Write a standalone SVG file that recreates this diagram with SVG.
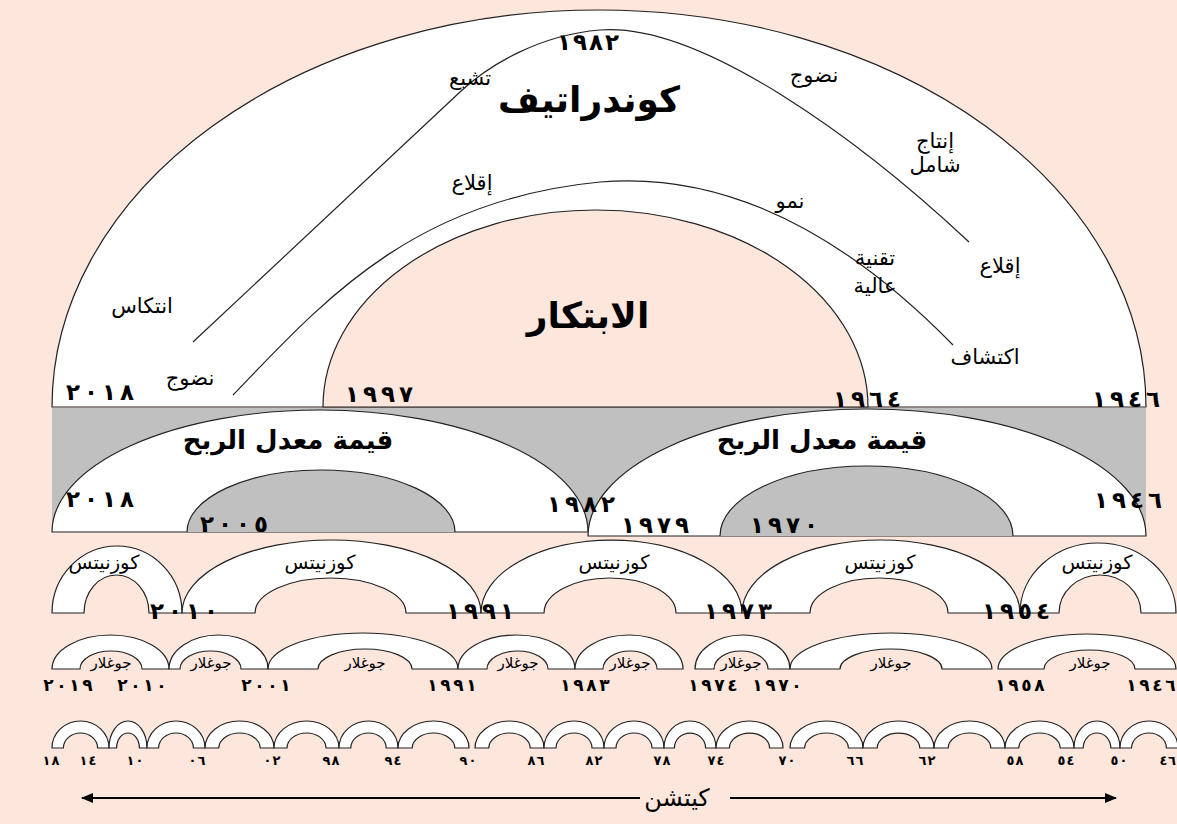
<svg xmlns="http://www.w3.org/2000/svg" width="1177" height="824" viewBox="0 0 1177 824">
<defs>
<style>
.arch{fill:#fff;stroke:#222;stroke-width:1.2;stroke-linejoin:round}
.hole{fill:#fde6dc;stroke:#222;stroke-width:1.2}
.ghole{fill:#c0c0c0;stroke:#222;stroke-width:1.2}
.band{fill:#c0c0c0}
.curve{fill:none;stroke:#222;stroke-width:1.2}
.arrow{fill:none;stroke:#000;stroke-width:2}
text{font-family:'DejaVu Sans',sans-serif;fill:#000;text-anchor:middle}
.big{font-size:36px;font-weight:bold}
.mid{font-size:26px;font-weight:bold}
.lbl{font-size:21px}
.kz{font-size:19.5px}
.jg{font-size:15px}
.kt{font-size:24px}
.yr{font-size:23px;font-weight:bold}
.yrs{font-size:17px;font-weight:bold}
.yrx{font-size:13px;font-weight:bold}
</style>
<marker id="ah" viewBox="0 0 12 10" refX="11" refY="5" markerWidth="12" markerHeight="10" markerUnits="userSpaceOnUse" orient="auto">
<path d="M0,0 L12,5 L0,10 z" fill="#000"/>
</marker>
</defs>
<rect width="1177" height="824" fill="#fde6dc"/>

<g id="kondratieff">
<path class="arch" d="M52,407 A547,397 0 0 1 1146,407 Z"/>
<g id="connectors">
<path class="curve" d="M193,342 L460,92 C490,64 540,35 600,30 C700,22 860,140 969,242"/>
<path class="curve" d="M233,395 C320,305 410,200 600,182 C740,170 860,250 953,345"/>
</g>
<path class="hole" d="M323,407 A272.5,197 0 0 1 868,407 Z"/>
<text class="yr" x="564 580 596 612" y="50">١٩٨٢</text>
<text class="big" x="589" y="112">كوندراتيف</text>
<text class="lbl" x="470" y="85">تشبع</text>
<text class="lbl" x="814" y="82">نضوج</text>
<text class="lbl" x="935" y="148">إنتاج</text>
<text class="lbl" x="935" y="172">شامل</text>
<text class="lbl" x="472" y="190">إقلاع</text>
<text class="lbl" x="790" y="208">نمو</text>
<text class="lbl" x="875" y="265">تقنية</text>
<text class="lbl" x="875" y="293">عالية</text>
<text class="lbl" x="1000" y="273">إقلاع</text>
<text class="lbl" x="142" y="313">انتكاس</text>
<text class="big" x="588" y="328">الابتكار</text>
<text class="lbl" x="985" y="364">اكتشاف</text>
<text class="lbl" x="190" y="385">نضوج</text>
<text class="yr" x="73 91 109 127" y="400">٢٠١٨</text>
<text class="yr" x="352 370 388 406" y="402">١٩٩٧</text>
<text class="yr" x="840 858 876 894" y="407">١٩٦٤</text>
<text class="yr" x="1099 1117 1135 1153" y="407">١٩٤٦</text>
</g>

<g id="profit">
<rect class="band" x="52" y="408" width="1094" height="124"/>
<path class="arch" d="M52,532 A268,122 0 0 1 588,532 Z"/>
<path class="ghole" d="M187,532 A134,62 0 0 1 455,532"/>
<path class="arch" d="M588,536 A279,127 0 0 1 1146,536 Z"/>
<path class="ghole" d="M720,536 A146.5,70 0 0 1 1013,536"/>
<text class="mid" x="288" y="449">قيمة معدل الربح</text>
<text class="mid" x="822" y="449">قيمة معدل الربح</text>
<text class="yr" x="73 91 109 127" y="507">٢٠١٨</text>
<text class="yr" x="554 572 590 608" y="512">١٩٨٢</text>
<text class="yr" x="207 225 243 261" y="532">٢٠٠٥</text>
<text class="yr" x="628 646 664 682" y="533">١٩٧٩</text>
<text class="yr" x="757 775 793 811" y="533">١٩٧٠</text>
<text class="yr" x="1101 1119 1137 1155" y="508">١٩٤٦</text>
</g>

<g id="kuznets">
<path class="arch" d="M52,613 A65,67 0 0 1 182,613 L149,613 A32.5,38 0 0 0 84,613 Z"/>
<path class="arch" d="M182,613 A149.5,73 0 0 1 481,613 L406,613 A75.5,35 0 0 0 255,613 Z"/>
<path class="arch" d="M481,613 A130.5,73 0 0 1 742,613 L676,613 A66,35 0 0 0 544,613 Z"/>
<path class="arch" d="M742,613 A139,73 0 0 1 1020,613 L948,613 A69,35 0 0 0 810,613 Z"/>
<path class="arch" d="M1020,613 A78,70 0 0 1 1176,613 L1141,613 A41,38 0 0 0 1059,613 Z"/>
<text class="kz" x="104" y="569">كوزنيتس</text>
<text class="kz" x="320" y="569">كوزنيتس</text>
<text class="kz" x="614" y="569">كوزنيتس</text>
<text class="kz" x="880" y="569">كوزنيتس</text>
<text class="kz" x="1097" y="569">كوزنيتس</text>
<text class="yr" x="157 175 193 211" y="619">٢٠١٠</text>
<text class="yr" x="453 471 489 507" y="619">١٩٩١</text>
<text class="yr" x="711 729 747 765" y="619">١٩٧٣</text>
<text class="yr" x="989 1007 1025 1043" y="619">١٩٥٤</text>
</g>

<g id="juglar">
<path class="arch" d="M52,669 A58.5,34 0 0 1 169,669 L142,669 A31,18 0 0 0 80,669 Z"/>
<path class="arch" d="M169,669 A49.5,34 0 0 1 268,669 L241,669 A30.5,18 0 0 0 180,669 Z"/>
<path class="arch" d="M268,669 A95,36 0 0 1 458,669 L412,669 A47,20 0 0 0 318,669 Z"/>
<path class="arch" d="M458,669 A58.5,34 0 0 1 575,669 L548,669 A30.5,18 0 0 0 487,669 Z"/>
<path class="arch" d="M575,669 A54,34 0 0 1 683,669 L657,669 A27,18 0 0 0 603,669 Z"/>
<path class="arch" d="M695,669 A47.5,34 0 0 1 790,669 L768,669 A27,18 0 0 0 714,669 Z"/>
<path class="arch" d="M790,669 A101,36 0 0 1 992,669 L942,669 A51,20 0 0 0 840,669 Z"/>
<path class="arch" d="M998,669 A89,35 0 0 1 1176,669 L1135,669 A45.5,19 0 0 0 1044,669 Z"/>
<text class="jg" x="111" y="668">جوغلار</text>
<text class="jg" x="211" y="668">جوغلار</text>
<text class="jg" x="365" y="668">جوغلار</text>
<text class="jg" x="518" y="668">جوغلار</text>
<text class="jg" x="630" y="668">جوغلار</text>
<text class="jg" x="741" y="668">جوغلار</text>
<text class="jg" x="891" y="668">جوغلار</text>
<text class="jg" x="1090" y="668">جوغلار</text>
<text class="yrs" x="48.5 61.5 74.5 87.5" y="691">٢٠١٩</text>
<text class="yrs" x="122.5 135.5 148.5 161.5" y="691">٢٠١٠</text>
<text class="yrs" x="246.5 259.5 272.5 285.5" y="691">٢٠٠١</text>
<text class="yrs" x="432.5 445.5 458.5 471.5" y="691">١٩٩١</text>
<text class="yrs" x="565.5 578.5 591.5 604.5" y="691">١٩٨٣</text>
<text class="yrs" x="693.5 706.5 719.5 732.5" y="691">١٩٧٤</text>
<text class="yrs" x="757.5 770.5 783.5 796.5" y="691">١٩٧٠</text>
<text class="yrs" x="1000.5 1013.5 1026.5 1039.5" y="691">١٩٥٨</text>
<text class="yrs" x="1131.5 1144.5 1157.5 1170.5" y="691">١٩٤٦</text>
</g>

<g id="kitchin">
<path class="arch" d="M52,748 A28.5,27 0 0 1 109,748 L97.6,748 A17.1,15 0 0 0 63.4,748 Z"/>
<path class="arch" d="M109,748 A19,27 0 0 1 147,748 L139.4,748 A11.4,15 0 0 0 116.6,748 Z"/>
<path class="arch" d="M147,748 A29,27 0 0 1 205,748 L193.4,748 A17.4,15 0 0 0 158.6,748 Z"/>
<path class="arch" d="M205,748 A34.5,27 0 0 1 274,748 L260.2,748 A20.7,15 0 0 0 218.8,748 Z"/>
<path class="arch" d="M274,748 A32.5,27 0 0 1 339,748 L326,748 A19.5,15 0 0 0 287,748 Z"/>
<path class="arch" d="M339,748 A29.5,27 0 0 1 398,748 L386.2,748 A17.7,15 0 0 0 350.8,748 Z"/>
<path class="arch" d="M398,748 A35.5,27 0 0 1 469,748 L454.8,748 A21.3,15 0 0 0 412.2,748 Z"/>
<path class="arch" d="M475,748 A34.5,27 0 0 1 544,748 L530.2,748 A20.7,15 0 0 0 488.8,748 Z"/>
<path class="arch" d="M544,748 A30,27 0 0 1 604,748 L592,748 A18,15 0 0 0 556,748 Z"/>
<path class="arch" d="M604,748 A30,27 0 0 1 664,748 L652,748 A18,15 0 0 0 616,748 Z"/>
<path class="arch" d="M664,748 A26,27 0 0 1 716,748 L705.6,748 A15.6,15 0 0 0 674.4,748 Z"/>
<path class="arch" d="M716,748 A33.5,27 0 0 1 783,748 L769.6,748 A20.1,15 0 0 0 729.4,748 Z"/>
<path class="arch" d="M790,748 A36.5,27 0 0 1 863,748 L848.4,748 A21.9,15 0 0 0 804.6,748 Z"/>
<path class="arch" d="M863,748 A35.5,27 0 0 1 934,748 L919.8,748 A21.3,15 0 0 0 877.2,748 Z"/>
<path class="arch" d="M934,748 A35.5,27 0 0 1 1005,748 L990.8,748 A21.3,15 0 0 0 948.2,748 Z"/>
<path class="arch" d="M1005,748 A34.5,27 0 0 1 1074,748 L1060.2,748 A20.7,15 0 0 0 1018.8,748 Z"/>
<path class="arch" d="M1074,748 A23,27 0 0 1 1120,748 L1110.8,748 A13.8,15 0 0 0 1083.2,748 Z"/>
<path class="arch" d="M1120,748 A29,27 0 0 1 1178,748 L1166.4,748 A17.4,15 0 0 0 1131.6,748 Z"/>
<text class="yrx" x="46.5 55.5" y="765">١٨</text>
<text class="yrx" x="83.5 92.5" y="765">١٤</text>
<text class="yrx" x="130.5 139.5" y="765">١٠</text>
<text class="yrx" x="192.5 201.5" y="765">٠٦</text>
<text class="yrx" x="267.5 276.5" y="765">٠٢</text>
<text class="yrx" x="326.5 335.5" y="765">٩٨</text>
<text class="yrx" x="388.5 397.5" y="765">٩٤</text>
<text class="yrx" x="463.5 472.5" y="765">٩٠</text>
<text class="yrx" x="531.5 540.5" y="765">٨٦</text>
<text class="yrx" x="589.5 598.5" y="765">٨٢</text>
<text class="yrx" x="657.5 666.5" y="765">٧٨</text>
<text class="yrx" x="711.5 720.5" y="765">٧٤</text>
<text class="yrx" x="782.5 791.5" y="765">٧٠</text>
<text class="yrx" x="850.5 859.5" y="765">٦٦</text>
<text class="yrx" x="922.5 931.5" y="765">٦٢</text>
<text class="yrx" x="1010.5 1019.5" y="765">٥٨</text>
<text class="yrx" x="1061.5 1070.5" y="765">٥٤</text>
<text class="yrx" x="1114.5 1123.5" y="765">٥٠</text>
<text class="yrx" x="1163.5 1172" y="765">٤٦</text>
<path class="arrow" d="M640,798 L82,798" marker-end="url(#ah)"/>
<path class="arrow" d="M730,798 L1116,798" marker-end="url(#ah)"/>
<text class="kt" x="677" y="806">كيتشن</text>
</g>
</svg>
